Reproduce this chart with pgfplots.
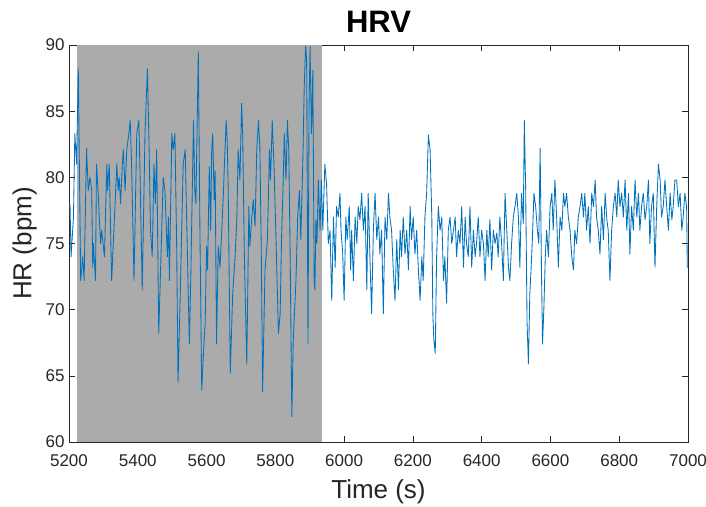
\documentclass[border=0pt]{standalone}
\usepackage{pgfplots}
\pgfplotsset{compat=1.18}
\usepackage{fontspec}
\setmainfont{Liberation Sans}
\definecolor{mblue}{RGB}{0,114,189}
\definecolor{shade}{RGB}{171,171,171}
\definecolor{axgray}{RGB}{38,38,38}
\begin{document}
\begin{tikzpicture}
\begin{axis}[
  scale only axis, width=619pt, height=397pt,
  xmin=5200, xmax=7000, ymin=60, ymax=90,
  xtick={5200,5400,...,7000}, ytick={60,65,...,90},
  tick align=inside, tick pos=both,
  major tick length=6pt,
  axis line style={axgray, line width=0.6pt},
  tick style={axgray, line width=0.6pt},
  /pgf/number format/assume math mode=true,
  /pgf/number format/1000 sep={},
  ticklabel style={font=\fontsize{17}{19}\selectfont, text=axgray},
  xticklabel style={yshift=-9pt},
  yticklabel style={xshift=-1pt},
  xlabel={Time (s)}, ylabel={HR (bpm)},
  label style={font=\fontsize{26}{30}\selectfont, text=axgray},
  xlabel style={yshift=-6pt},
  ylabel style={yshift=2pt},
  title={\textbf{HRV}},
  title style={font=\fontsize{31}{34}\selectfont, yshift=3pt},
]
\coordinate (ll) at (rel axis cs:0,0);
\coordinate (ur) at (rel axis cs:1,1);
\addplot[draw=none, fill=shade] coordinates {(5222,60) (5937,60) (5937,90) (5222,90)} -- cycle;
\addplot[mblue, line width=0.85pt, line join=round] table {
5200 77.9
5203 77.9
5206 74.0
5213 77.0
5217 83.3
5222 81.0
5227 88.2
5234 72.2
5240 74.0
5244 72.2
5251 82.2
5256 79.0
5261 80.0
5266 79.0
5269 73.2
5271 75.0
5277 72.2
5280 81.0
5285 78.8
5288 77.0
5292 75.0
5295 76.0
5303 74.0
5310 81.0
5312 79.0
5317 81.0
5324 72.2
5334 78.0
5339 81.0
5343 79.0
5346 80.0
5350 78.0
5355 81.0
5358 82.1
5363 79.0
5368 82.1
5374 83.3
5378 84.3
5382 81.0
5389 72.2
5397 83.3
5403 84.3
5406 81.0
5413 71.5
5421 83.3
5428 88.2
5433 82.1
5437 76.0
5442 74.0
5447 81.0
5451 78.0
5455 82.1
5461 68.2
5474 80.0
5479 79.0
5486 74.0
5489 77.0
5492 72.2
5499 83.3
5503 82.1
5508 83.3
5513 75.0
5517 64.5
5523 70.5
5532 81.0
5538 82.1
5542 77.0
5550 67.4
5554 72.2
5562 84.3
5566 79.0
5569 78.0
5576 89.5
5581 75.3
5586 63.9
5591 66.7
5596 69.0
5600 74.8
5603 73.0
5608 80.8
5612 76.0
5615 82.1
5618 83.3
5622 78.3
5625 80.5
5629 67.4
5634 74.8
5639 73.2
5644 75.8
5649 78.8
5652 81.0
5657 84.3
5660 82.8
5663 79.0
5669 65.2
5676 71.2
5683 74.0
5688 76.8
5692 82.1
5697 79.8
5702 85.6
5705 83.3
5710 74.0
5717 65.9
5723 77.8
5726 74.8
5731 76.8
5736 78.3
5741 76.3
5746 82.1
5751 84.3
5755 82.3
5759 74.8
5763 63.8
5770 73.0
5777 75.3
5783 82.1
5786 79.8
5791 84.3
5796 81.0
5802 75.3
5809 68.2
5814 69.7
5818 75.3
5823 79.8
5826 83.3
5831 79.8
5835 84.3
5839 82.1
5843 74.5
5848 61.9
5852 67.7
5860 72.2
5865 77.0
5870 79.0
5874 75.3
5880 81.3
5884 86.8
5888 89.9
5891 88.9
5895 67.4
5898 85.3
5901 89.9
5905 83.3
5909 88.1
5913 72.2
5915 71.5
5918 76.8
5921 75.0
5925 79.8
5930 76.0
5934 79.8
5938 76.0
5944 81.0
5949 79.5
5954 75.0
5959 76.0
5964 70.7
5969 77.0
5974 73.2
5978 77.8
5983 77.0
5988 78.8
5991 76.0
5996 74.2
6000 70.7
6005 77.0
6009 75.3
6015 77.8
6019 73.0
6022 76.0
6027 72.2
6032 77.0
6037 75.0
6041 77.8
6046 76.8
6051 78.8
6056 76.0
6061 77.8
6066 71.5
6070 78.8
6075 74.0
6080 69.7
6085 76.0
6090 78.8
6095 75.3
6100 77.0
6104 74.2
6109 76.0
6114 69.7
6119 77.0
6124 75.3
6129 78.8
6133 77.0
6138 76.0
6143 73.0
6148 70.7
6153 75.3
6158 71.5
6163 76.0
6167 74.0
6172 77.0
6177 74.2
6182 76.0
6187 73.0
6192 77.8
6196 75.3
6201 77.0
6206 74.2
6211 76.0
6216 73.0
6221 70.7
6226 74.0
6230 72.2
6235 77.0
6240 78.8
6245 83.2
6250 82.1
6255 77.0
6258 69.7
6261 67.7
6265 66.7
6269 74.0
6274 77.8
6279 76.0
6284 77.0
6289 72.2
6293 74.0
6298 70.5
6303 76.0
6308 77.0
6313 75.0
6318 76.0
6323 77.0
6327 74.0
6332 76.0
6337 75.0
6342 77.8
6347 73.2
6352 77.0
6356 75.0
6361 74.0
6366 77.8
6371 73.2
6376 76.0
6381 74.0
6385 75.0
6390 77.0
6395 74.0
6400 76.0
6405 75.0
6410 72.2
6415 76.0
6419 74.0
6424 76.8
6429 73.0
6434 76.0
6439 75.0
6444 75.8
6448 74.0
6453 77.0
6458 75.0
6463 72.2
6468 78.8
6473 76.0
6478 73.2
6482 72.2
6487 75.0
6492 77.0
6497 77.8
6502 78.8
6507 77.0
6511 73.2
6516 78.8
6521 76.5
6524 84.3
6528 79.0
6532 69.0
6536 65.9
6540 71.2
6543 72.7
6547 75.0
6552 78.8
6557 77.8
6562 76.0
6566 75.0
6570 82.2
6574 72.7
6577 67.4
6581 70.2
6585 74.0
6589 76.0
6594 74.0
6599 77.8
6604 78.8
6608 76.0
6613 79.8
6618 77.0
6623 73.2
6628 77.0
6633 76.0
6638 78.8
6642 77.8
6647 78.8
6652 77.0
6657 76.0
6662 74.0
6667 73.0
6671 76.0
6676 75.0
6681 77.0
6686 77.8
6691 78.8
6696 77.0
6700 78.8
6705 76.0
6710 77.8
6715 75.0
6720 78.8
6725 77.8
6730 79.8
6734 77.0
6739 76.0
6744 74.2
6749 77.8
6754 75.3
6759 78.8
6764 76.8
6768 76.0
6773 72.2
6778 76.0
6783 77.8
6788 78.8
6793 77.0
6797 79.8
6802 77.8
6807 78.8
6812 77.0
6817 79.8
6822 76.0
6827 78.8
6831 74.2
6836 77.8
6841 76.0
6846 79.8
6851 77.0
6856 78.8
6860 76.0
6865 77.8
6870 78.8
6875 76.8
6880 77.8
6885 79.8
6889 75.0
6894 77.8
6899 78.8
6904 73.2
6909 77.8
6914 81.0
6919 79.8
6923 77.0
6928 77.8
6933 79.8
6938 77.8
6943 76.0
6948 78.8
6953 76.8
6957 77.8
6962 79.8
6967 79.8
6972 77.8
6977 78.8
6982 76.0
6986 77.0
6991 78.8
6996 77.8
6998 73.2
7000 73.2
};
\end{axis}
\pgfresetboundingbox
\path ([xshift=-69pt,yshift=-64pt]ll) rectangle ([xshift=18pt,yshift=45pt]ur);
\end{tikzpicture}
\end{document}
